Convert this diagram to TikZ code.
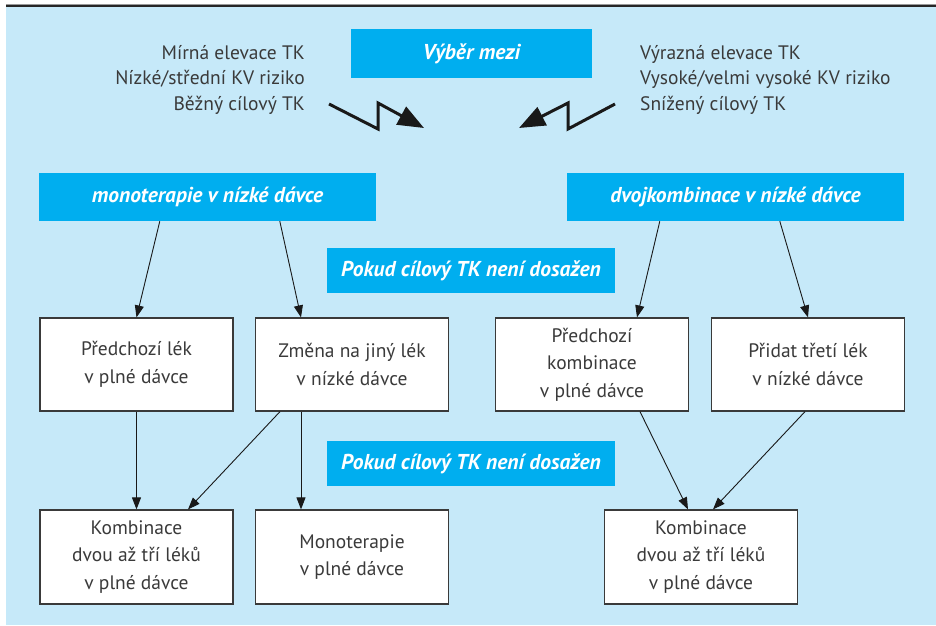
\documentclass[tikz,border=0pt]{standalone}
\usepackage{fontspec}
\setmainfont{PT Sans}
\usepackage{tikz}
\usetikzlibrary{positioning}
\usetikzlibrary{arrows.meta}

\definecolor{bgBlue}{HTML}{C6E9F9}
\definecolor{headBlue}{HTML}{00AEEF}
\definecolor{textGray}{HTML}{3A3A3A}

\begin{document}
\begin{tikzpicture}[x=1pt,y=-1pt,
		headBox/.style={rectangle, fill=headBlue, text=white, inner sep=0pt, font=\fontsize{21.5}{24}\selectfont\bfseries\itshape},
		stepBox/.style={rectangle, fill=white, draw=textGray, line width=1.2pt, minimum width=193pt, minimum height=93pt, inner sep=0pt, align=center, text=textGray, font=\fontsize{19.5}{27.5}\selectfont},
		condText/.style={align=right, text=textGray, inner sep=0pt, font=\fontsize{19.5}{25.5}\selectfont},
		flowArrow/.style={-{Triangle[length=12pt,width=9pt]}, line width=0.9pt, draw=black!90},
		zigArrow/.style={-{Triangle[length=26pt,width=20pt]}, line width=3pt, draw=black!90, line join=miter}]
		\useasboundingbox (0,0) rectangle (936,625);
		\fill[bgBlue] (6,7) rectangle (936,625);
		\fill[black!85] (6,4.4) rectangle (936,7.3);
		\draw[black!40, line width=0.5pt] (6,4.2) -- (936,4.2);

		\node[headBox, minimum width=241pt, minimum height=49pt](vyberBox) at (471.5,53.5){Výběr mezi};
		\node[condText, anchor=east](leftCond) at (305,79.5){Mírná elevace TK\\Nízké/střední KV riziko\\Běžný cílový TK};
		\node[condText, align=left, anchor=west](rightCond) at (640,79.5){Výrazná elevace TK\\Vysoké/velmi vysoké KV riziko\\Snížený cílový TK};

		\coordinate (zigLeftStart) at (329,104);
		\coordinate (zigLeftTip) at (424,128);
		\coordinate (zigRightStart) at (615,104);
		\coordinate (zigRightTip) at (519,128);

		\node[headBox, minimum width=337pt, minimum height=48pt](monoBox) at (207.5,197){monoterapie v nízké dávce};
		\node[headBox, minimum width=337pt, minimum height=48pt](dvojBox) at (735.5,197){dvojkombinace v nízké dávce};
		\node[headBox, minimum width=288pt, minimum height=45pt](pokudOne) at (471,270.5){Pokud cílový TK není dosažen};
		\node[headBox, minimum width=288pt, minimum height=45pt](pokudTwo) at (471,463.5){Pokud cílový TK není dosažen};

		\node[stepBox](prevBox) at (136.5,364.5){Předchozí lék\\v plné dávce};
		\node[stepBox](changeBox) at (352,364.5){Změna na jiný lék\\v nízké dávce};
		\node[stepBox](prevCombBox) at (592,364.5){Předchozí\\kombinace\\v plné dávce};
		\node[stepBox](addBox) at (808,364.5){Přidat třetí lék\\v nízké dávce};

		\node[stepBox, minimum height=94pt](combLeft) at (136.5,557){Kombinace\\dvou až tří léků\\v plné dávce};
		\node[stepBox, minimum height=94pt](monoFull) at (352,557){Monoterapie\\v plné dávce};
		\node[stepBox, minimum height=94pt](combRight) at (701,557){Kombinace\\dvou až tří léků\\v plné dávce};

		% draw zigzag arrows
		\draw[zigArrow] (zigLeftStart) -- ++(49,25) -- ++(0,-26) -- (zigLeftTip);
		\draw[zigArrow] (zigRightStart) -- ++(-47,25) -- ++(0,-26) -- (zigRightTip);

		% draw first step edges
		\draw[flowArrow] ([xshift=121pt]monoBox.south west) -- (prevBox.north);
		\draw[flowArrow] ([xshift=241pt]monoBox.south west) -- ([xshift=-51pt]changeBox.north);
		\draw[flowArrow] ([xshift=93pt]dvojBox.south west) -- ([xshift=45pt]prevCombBox.north);
		\draw[flowArrow] ([xshift=213pt]dvojBox.south west) -- (addBox.north);

		% draw second step edges
		\draw[flowArrow] (prevBox.south) -- (combLeft.north);
		\draw[flowArrow] ([xshift=-72pt]changeBox.south) -- ([xshift=51.5pt]combLeft.north);
		\draw[flowArrow] ([xshift=-51pt]changeBox.south) -- ([xshift=-51pt]monoFull.north);
		\draw[flowArrow] ([xshift=48pt]prevCombBox.south) -- ([xshift=-13pt]combRight.north);
		\draw[flowArrow] ([xshift=-3pt]addBox.south) -- ([xshift=12pt]combRight.north);

	\end{tikzpicture}
\end{document}
